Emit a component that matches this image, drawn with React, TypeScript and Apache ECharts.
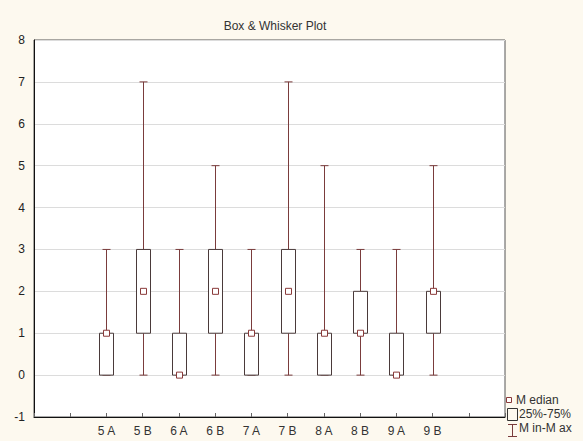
import React, { useEffect, useRef } from "react";
import * as echarts from "echarts";

const categories = ["", "", "5 A", "5 B", "6 A", "6 B", "7 A", "7 B", "8 A", "8 B", "9 A", "9 B", "", ""];
const groups = ["5 A", "5 B", "6 A", "6 B", "7 A", "7 B", "8 A", "8 B", "9 A", "9 B"];
const minValues = [0, 0, 0, 0, 0, 0, 0, 0, 0, 0];
const q1Values = [0, 1, 0, 1, 0, 1, 0, 1, 0, 1];
const medianValues = [1, 2, 0, 2, 1, 2, 1, 1, 0, 2];
const q3Values = [1, 3, 1, 3, 1, 3, 1, 2, 1, 2];
const maxValues = [3, 7, 3, 5, 3, 7, 5, 3, 3, 5];
const yTicks = { min: -1, max: 8, interval: 1 };

const WHISKER = "#7a3c3c";
const BOX = "#4a3a3a";
const MED = "#8a3a3a";
const FONT = "'Liberation Sans', Arial, sans-serif";

export default function App() {
  const ref = useRef<HTMLDivElement>(null);
  useEffect(() => {
    if (!ref.current) return;
    const chart = echarts.init(ref.current, undefined, { renderer: "svg" });
    const data = groups.map((g, i) => [
      categories.indexOf(g),
      minValues[i],
      q1Values[i],
      medianValues[i],
      q3Values[i],
      maxValues[i],
    ]);
    chart.setOption({
      animation: false,
      backgroundColor: "#fdf9ef",
      title: {
        text: "Box & Whisker Plot",
        left: 270,
        top: 15,
        textAlign: "center",
        textStyle: { fontFamily: FONT, fontSize: 12, fontWeight: "normal", color: "#333" },
      },
      grid: {
        left: 34,
        right: 78,
        top: 40,
        bottom: 24,
        show: true,
        backgroundColor: "#ffffff",
        borderColor: "#555",
        borderWidth: 1,
      },
      xAxis: {
        type: "category",
        data: categories,
        boundaryGap: false,
        axisLine: { show: true, onZero: false, lineStyle: { color: "#111", width: 1 } },
        axisTick: { show: true, inside: true, length: 4, lineStyle: { color: "#666" } },
        axisLabel: { fontFamily: FONT, fontSize: 12, color: "#333", margin: 8, interval: 0 },
        splitLine: { show: false },
      },
      yAxis: {
        type: "value",
        min: yTicks.min,
        max: yTicks.max,
        interval: yTicks.interval,
        axisLine: { show: true, lineStyle: { color: "#111", width: 1 } },
        axisTick: { show: false },
        axisLabel: { fontFamily: FONT, fontSize: 12, color: "#222", margin: 9 },
        splitLine: { show: true, lineStyle: { color: "#dcdcdc", width: 1 } },
      },
      series: [
        {
          type: "custom",
          data,
          renderItem: (params: any, api: any) => {
            const x = api.value(0);
            const mn = api.coord([x, api.value(1)]);
            const q1 = api.coord([x, api.value(2)]);
            const md = api.coord([x, api.value(3)]);
            const q3 = api.coord([x, api.value(4)]);
            const mx = api.coord([x, api.value(5)]);
            const cx = Math.round(mn[0]) + 0.5;
            const bw = 14;
            const cw = 8;
            const children: any[] = [];
            children.push({
              type: "line",
              shape: { x1: cx, y1: mx[1], x2: cx, y2: q3[1] },
              style: { stroke: WHISKER, lineWidth: 1 },
            });
            children.push({
              type: "line",
              shape: { x1: cx - cw / 2, y1: mx[1], x2: cx + cw / 2, y2: mx[1] },
              style: { stroke: WHISKER, lineWidth: 1 },
            });
            if (q1[1] !== mn[1]) {
              children.push({
                type: "line",
                shape: { x1: cx, y1: q1[1], x2: cx, y2: mn[1] },
                style: { stroke: WHISKER, lineWidth: 1 },
              });
            }
            children.push({
              type: "line",
              shape: { x1: cx - cw / 2, y1: mn[1], x2: cx + cw / 2, y2: mn[1] },
              style: { stroke: WHISKER, lineWidth: 1 },
            });
            children.push({
              type: "rect",
              shape: { x: cx - bw / 2, y: q3[1], width: bw, height: q1[1] - q3[1] },
              style: { fill: "#ffffff", stroke: BOX, lineWidth: 1 },
            });
            children.push({
              type: "rect",
              shape: { x: cx - 3, y: md[1] - 3, width: 6, height: 6 },
              style: { fill: "#ffffff", stroke: MED, lineWidth: 1 },
            });
            return { type: "group", children };
          },
        },
      ],
      graphic: [
        {
          type: "rect",
          shape: { x: 506.5, y: 397.5, width: 5, height: 5 },
          style: { fill: "#fff", stroke: MED, lineWidth: 1 },
        },
        {
          type: "text",
          x: 516,
          y: 394,
          style: { text: "M edian", font: `12px ${FONT}`, fill: "#333" },
        },
        {
          type: "rect",
          shape: { x: 507.5, y: 408.5, width: 10, height: 12 },
          style: { fill: "#fdf9ef", stroke: "#333", lineWidth: 1 },
        },
        {
          type: "text",
          x: 519,
          y: 408,
          style: { text: "25%-75%", font: `12px ${FONT}`, fill: "#333" },
        },
        {
          type: "line",
          shape: { x1: 512.5, y1: 424, x2: 512.5, y2: 437 },
          style: { stroke: WHISKER, lineWidth: 1 },
        },
        {
          type: "line",
          shape: { x1: 508, y1: 424.5, x2: 517, y2: 424.5 },
          style: { stroke: WHISKER, lineWidth: 1 },
        },
        {
          type: "line",
          shape: { x1: 508, y1: 436.5, x2: 517, y2: 436.5 },
          style: { stroke: WHISKER, lineWidth: 1 },
        },
        {
          type: "text",
          x: 519,
          y: 422,
          style: { text: "M in-M ax", font: `12px ${FONT}`, fill: "#333" },
        },
      ],
    });
    return () => chart.dispose();
  }, []);
  return <div ref={ref} style={{ width: 583, height: 441, position: "absolute", left: 0, top: 0 }} />;
}
